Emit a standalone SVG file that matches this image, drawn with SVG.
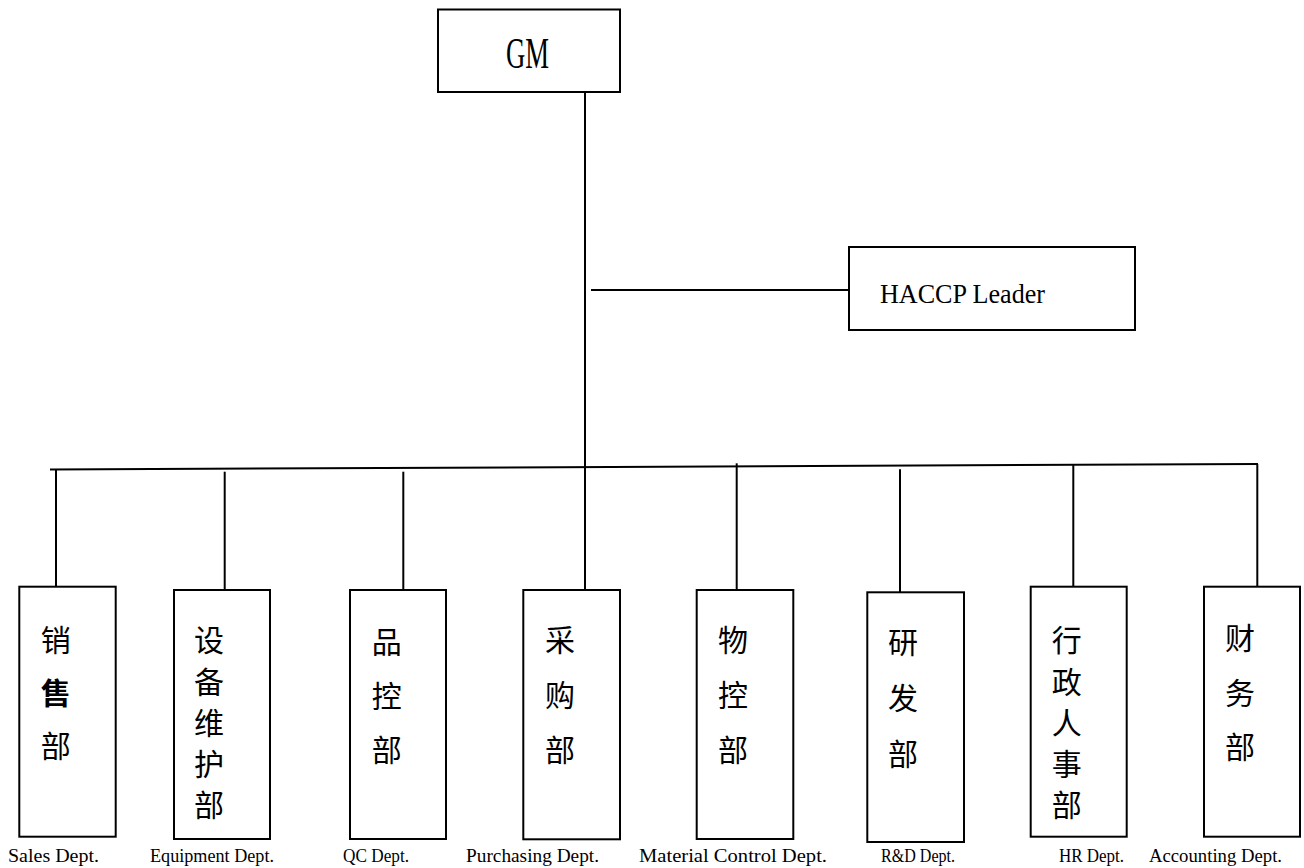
<svg xmlns="http://www.w3.org/2000/svg" width="1304" height="868" viewBox="0 0 1304 868">
<style>
.box{fill:#fff;stroke:#000;stroke-width:2}
.ln{stroke:#000;stroke-width:2;fill:none}
.cn{font-family:"Noto Sans CJK SC","Noto Sans CJK JP",sans-serif;font-size:30px;fill:#000;writing-mode:vertical-rl}
.lb{font-family:"Liberation Serif",serif;font-size:18px;fill:#000}
.en{font-family:"Liberation Serif",serif;fill:#000}
</style>
<rect width="1304" height="868" fill="#fff"/>
<g id="connectors">
<line class="ln" x1="585" y1="92" x2="585" y2="590"/>
<line class="ln" x1="591" y1="290" x2="848" y2="290"/>
<line class="ln" x1="50" y1="469.5" x2="1258" y2="464"/>
<line class="ln" x1="56" y1="469" x2="56" y2="587"/>
<line class="ln" x1="224.7" y1="471.7" x2="224.7" y2="590"/>
<line class="ln" x1="403.3" y1="471.7" x2="403.3" y2="590"/>
<line class="ln" x1="736.7" y1="463.3" x2="736.7" y2="590"/>
<line class="ln" x1="900" y1="469.3" x2="900" y2="592.3"/>
<line class="ln" x1="1073.3" y1="464" x2="1073.3" y2="587"/>
<line class="ln" x1="1257.3" y1="464" x2="1257.3" y2="587"/>
</g>
<g id="gm">
<rect class="box" x="438" y="9.5" width="182" height="82.5"/>
<text class="en" x="506" y="68" font-size="44" textLength="43" lengthAdjust="spacingAndGlyphs">GM</text>
</g>
<g id="haccp">
<rect class="box" x="849" y="247" width="286" height="83"/>
<text class="en" x="880" y="303" font-size="27" textLength="165" lengthAdjust="spacingAndGlyphs">HACCP Leader</text>
</g>
<g id="sales">
<rect class="box" x="19.3" y="586.7" width="96.4" height="250"/>
<text class="cn" x="55.8" y="625" letter-spacing="23">销<tspan font-weight="bold">售</tspan>部</text>
<text class="lb" x="8" y="862" textLength="91" lengthAdjust="spacingAndGlyphs">Sales Dept.</text>
</g>
<g id="equipment">
<rect class="box" x="174" y="590" width="96" height="249"/>
<text class="cn" x="209" y="625" letter-spacing="11.25">设备维护部</text>
<text class="lb" x="150" y="862" textLength="124" lengthAdjust="spacingAndGlyphs">Equipment Dept.</text>
</g>
<g id="qc">
<rect class="box" x="350" y="590" width="96" height="249"/>
<text class="cn" x="386.7" y="627" letter-spacing="24">品控部</text>
<text class="lb" x="343" y="862" textLength="66" lengthAdjust="spacingAndGlyphs">QC Dept.</text>
</g>
<g id="purchasing">
<rect class="box" x="523.3" y="590" width="96.7" height="249.3"/>
<text class="cn" x="560" y="625" letter-spacing="25">采购部</text>
<text class="lb" x="466" y="862" textLength="133" lengthAdjust="spacingAndGlyphs">Purchasing Dept.</text>
</g>
<g id="material">
<rect class="box" x="696.7" y="590" width="96.6" height="249"/>
<text class="cn" x="733" y="625" letter-spacing="25">物控部</text>
<text class="lb" x="639" y="862" textLength="188" lengthAdjust="spacingAndGlyphs">Material Control Dept.</text>
</g>
<g id="rd">
<rect class="box" x="867.3" y="592.3" width="96.7" height="249.7"/>
<text class="cn" x="903" y="627" letter-spacing="25.7">研发部</text>
<text class="lb" x="881" y="862" textLength="74" lengthAdjust="spacingAndGlyphs">R&amp;D Dept.</text>
</g>
<g id="hr">
<rect class="box" x="1030.7" y="586.7" width="96" height="250"/>
<text class="cn" x="1066.7" y="625" letter-spacing="11.25">行政人事部</text>
<text class="lb" x="1059" y="862" textLength="65" lengthAdjust="spacingAndGlyphs">HR Dept.</text>
</g>
<g id="accounting">
<rect class="box" x="1204" y="586.7" width="96" height="250"/>
<text class="cn" x="1240" y="623" letter-spacing="24.3">财务部</text>
<text class="lb" x="1149" y="862" textLength="133" lengthAdjust="spacingAndGlyphs">Accounting Dept.</text>
</g>
</svg>
